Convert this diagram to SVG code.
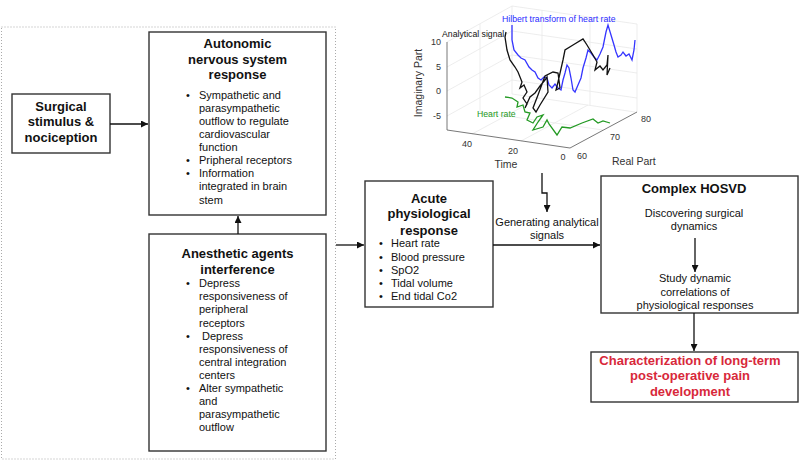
<svg xmlns="http://www.w3.org/2000/svg" width="800" height="473" viewBox="0 0 800 473">
<style>
text{font-family:"Liberation Sans",Arial,sans-serif;fill:#111}
.box{fill:#fff;stroke:#333;stroke-width:1.4}
.t{font-size:13px;font-weight:bold;text-anchor:middle}
.b{font-size:11px}
.c{font-size:11px;text-anchor:middle}
.red{fill:#d8283a}
.conn{fill:none;stroke:#111;stroke-width:1.3}
.grid{fill:none;stroke:#e8e8e8;stroke-width:0.8}
.ax{fill:none;stroke:#555;stroke-width:0.8}
.tick{font-size:9px;fill:#333}
.al{font-size:10.5px;fill:#333}
.pl{font-size:8.7px}
</style>
<defs>
<marker id="arr" viewBox="0 0 10 10" refX="10" refY="5" markerWidth="8" markerHeight="7" markerUnits="userSpaceOnUse" orient="auto">
<path d="M0,0 L10,5 L0,10 z" fill="#111"/>
</marker>
</defs>
<rect width="800" height="473" fill="#fff"/>

<rect x="1.5" y="27" width="334" height="432" fill="none" stroke="#aaa" stroke-width="1" stroke-dasharray="1,2"/>

<g id="plot">
<path class="grid" d="M447,42 L512,6 L637,24 M512,6 V94 M637,24 V112 M480,24 V112 M542,10 V98 M590,17 V105 M447,67 L512,31 L637,49 M447,91 L512,55 L637,73 M447,116 L512,80 L637,98 M512,94 L635,112 M480,112 L603,130 M472,134 L539,98 M521,141 L588,105"/>
<path class="ax" d="M447,42 V130 L570,148 L637,112"/>
<text class="tick" x="441" y="45" text-anchor="end">10</text>
<text class="tick" x="441" y="70" text-anchor="end">5</text>
<text class="tick" x="441" y="94" text-anchor="end">0</text>
<text class="tick" x="441" y="119" text-anchor="end">-5</text>
<text class="tick" x="467" y="147" text-anchor="middle">40</text>
<text class="tick" x="513" y="154" text-anchor="middle">20</text>
<text class="tick" x="563" y="160" text-anchor="middle">0</text>
<text class="tick" x="582" y="159" text-anchor="middle">60</text>
<text class="tick" x="615" y="140" text-anchor="middle">70</text>
<text class="tick" x="646" y="122" text-anchor="middle">80</text>
<text class="al" x="418" y="87" text-anchor="middle" transform="rotate(-90 418 83)">Imaginary Part</text>
<text class="al" x="506" y="168" text-anchor="middle">Time</text>
<text class="al" x="612" y="165">Real Part</text>
<polyline fill="none" stroke="#3535ff" stroke-width="1.3" points="512,25 512,40 514,50 518,55 521,58 525,60 529,67 532,70 535,72 538,78 541,80 544,77 547,78 549,85 552,88 555,84 558,88 561,90 563,80 565,73 567,65 569,68 571,78 573,90 575,92 578,85 581,78 583,68 586,58 588,50 591,53 594,57 597,60 600,54 603,47 606,32 608,25 611,35 614,45 616,52 618,57 621,55 623,52 626,56 629,54 632,60 634,50 635,40"/>
<polyline fill="none" stroke="#111" stroke-width="1.3" points="506,32 505,37 507,50 510,60 515,67 518,72 522,82 520,88 524,85 527,92 523,98 527,104 525,108 530,97 535,93 540,86 545,80 547,77 548,92 540,105 536,112 533,108 538,95 545,76 553,72 558,73 560,88 556,90 558,82 563,60 565,50 573,45 583,39 587,45 593,55 597,62 595,70 600,66 603,70 607,65 608,55 607,75 610,68"/>
<polyline fill="none" stroke="#249a24" stroke-width="1.3" points="505,97 512,98 518,102 517,107 523,105 525,112 530,113 527,120 533,123 537,117 543,115 538,122 533,130 543,127 547,120 549,124 557,135 562,127 570,128 582,123 593,119 598,123 603,121 610,123"/>
<text class="pl" x="502" y="22" style="fill:#2a2aff">Hilbert transform of heart rate</text>
<text class="pl" x="442" y="37">Analytical signal</text>
<text class="pl" x="477" y="117" style="fill:#249a24">Heart rate</text>
</g>

<g id="surgical">
<rect class="box" x="12" y="94" width="98" height="59"/>
<text class="t" x="61" y="111.4">Surgical</text>
<text class="t" x="61" y="126.4">stimulus &amp;</text>
<text class="t" x="61" y="142">nociception</text>
</g>

<g id="autonomic">
<rect class="box" x="149" y="32" width="177" height="183"/>
<text class="t" x="237.5" y="48">Autonomic</text>
<text class="t" x="237.5" y="63.7">nervous system</text>
<text class="t" x="237.5" y="79">response</text>
<g class="b">
<text x="186" y="98.7">•</text><text x="199" y="98.7">Sympathetic and</text>
<text x="199" y="111.8">parasympathetic</text>
<text x="199" y="124.9">outflow to regulate</text>
<text x="199" y="138">cardiovascular</text>
<text x="199" y="151.1">function</text>
<text x="186" y="164.2">•</text><text x="199" y="164.2">Pripheral receptors</text>
<text x="186" y="177.3">•</text><text x="199" y="177.3">Information</text>
<text x="199" y="190.4">integrated in brain</text>
<text x="199" y="203.5">stem</text>
</g>
</g>

<g id="anesthetic">
<rect class="box" x="149" y="234" width="177" height="217"/>
<text class="t" x="237.5" y="258">Anesthetic agents</text>
<text class="t" x="237.5" y="273.7">interference</text>
<g class="b">
<text x="186" y="287.3">•</text><text x="199" y="287.3">Depress</text>
<text x="199" y="300.3">responsiveness of</text>
<text x="199" y="313.4">peripheral</text>
<text x="199" y="326.5">receptors</text>
<text x="186" y="339.6">•</text><text x="202" y="339.6">Depress</text>
<text x="199" y="352.7">responsiveness of</text>
<text x="199" y="365.8">central integration</text>
<text x="199" y="378.9">centers</text>
<text x="186" y="392">•</text><text x="199" y="392">Alter sympathetic</text>
<text x="199" y="405.1">and</text>
<text x="199" y="418.2">parasympathetic</text>
<text x="199" y="431.3">outflow</text>
</g>
</g>

<g id="acute">
<rect class="box" x="365" y="181" width="128" height="126"/>
<text class="t" x="429" y="202.7">Acute</text>
<text class="t" x="429" y="218.3">physiological</text>
<text class="t" x="429" y="234.7">response</text>
<g class="b">
<text x="379" y="247.3">•</text><text x="391" y="247.3">Heart rate</text>
<text x="379" y="261.3">•</text><text x="391" y="261.3">Blood pressure</text>
<text x="379" y="274">•</text><text x="391" y="274">SpO2</text>
<text x="379" y="287.3">•</text><text x="391" y="287.3">Tidal volume</text>
<text x="379" y="300">•</text><text x="391" y="300">End tidal Co2</text>
</g>
</g>

<g id="hosvd">
<rect class="box" x="601" y="176" width="197" height="137"/>
<text class="t" x="694" y="192.7">Complex HOSVD</text>
<text class="c" x="694" y="217">Discovering surgical</text>
<text class="c" x="694" y="230">dynamics</text>
<text class="c" x="695" y="282">Study dynamic</text>
<text class="c" x="695" y="296">correlations of</text>
<text class="c" x="695" y="309">physiological responses</text>
</g>

<g id="pain">
<rect class="box" x="591" y="352" width="207" height="50"/>
<text class="t red" x="690" y="364.7">Characterization of long-term</text>
<text class="t red" x="690" y="379.7">post-operative pain</text>
<text class="t red" x="690" y="395.7">development</text>
</g>

<g id="connectors">
<path class="conn" d="M110,124 H148" marker-end="url(#arr)"/>
<path class="conn" d="M238,234 V216" marker-end="url(#arr)"/>
<path class="conn" d="M336,245 H364" marker-end="url(#arr)"/>
<path class="conn" d="M493,245 H600" marker-end="url(#arr)"/>
<path class="conn" d="M542,173 V193 H547 V212" marker-end="url(#arr)"/>
<path class="conn" d="M695,238 V272" marker-end="url(#arr)"/>
<path class="conn" d="M694,313 V351" marker-end="url(#arr)"/>
<text class="c" x="547" y="226">Generating analytical</text>
<text class="c" x="547" y="239">signals</text>
</g>
</svg>
